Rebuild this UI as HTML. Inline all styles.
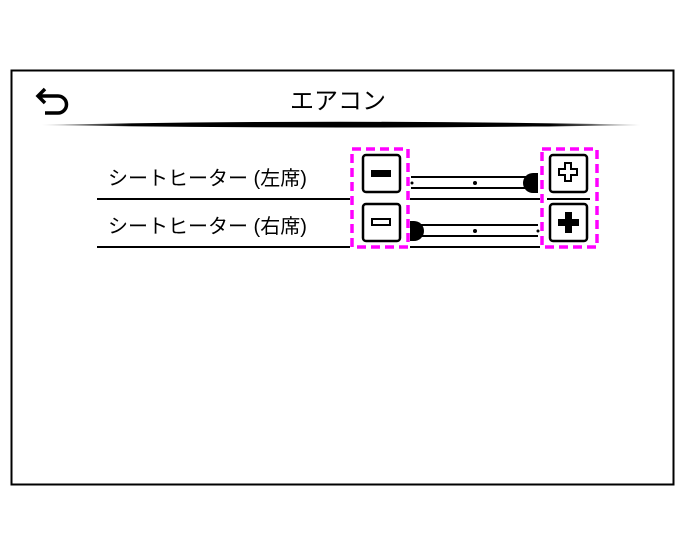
<!DOCTYPE html>
<html><head><meta charset="utf-8"><style>
html,body{margin:0;padding:0;background:#fff;width:685px;height:555px;overflow:hidden}
</style></head><body>
<svg width="685" height="555" viewBox="0 0 685 555" xmlns="http://www.w3.org/2000/svg">
<defs><linearGradient id="g" x1="0" x2="1" y1="0" y2="0">
<stop offset="0" stop-color="#000" stop-opacity="0.2"/><stop offset="0.15" stop-color="#000"/><stop offset="0.85" stop-color="#000"/><stop offset="1" stop-color="#000" stop-opacity="0.2"/></linearGradient></defs>
<rect x="11.5" y="70.5" width="662" height="414" fill="none" stroke="#000" stroke-width="2"/>
<path d="M58 96 H38 M45 89 L38 96 L45 103 M38 96 H58 A8.5 8.5 0 0 1 58 113 H45" fill="none" stroke="#000" stroke-width="3.5" stroke-linejoin="miter"/>
<text x="338" y="109" font-family="Liberation Sans, Noto Sans CJK JP, sans-serif" font-size="24" text-anchor="middle">エアコン</text>
<path d="M42 125 Q340 118.5 640 125 Q340 130 42 125 Z" fill="url(#g)"/>
<g font-family="Liberation Sans, Noto Sans CJK JP, sans-serif" font-size="20">
<text x="108" y="185">シートヒーター (左席)</text>
<text x="108" y="233">シートヒーター (右席)</text></g>
<g stroke="#000" stroke-width="2" fill="none">
<line x1="97" y1="199" x2="350" y2="199"/><line x1="97" y1="247" x2="350" y2="247"/>
<line x1="410" y1="199" x2="540" y2="199"/><line x1="410" y1="247" x2="540" y2="247"/>
<line x1="547" y1="199" x2="590" y2="199"/>
<line x1="411" y1="177" x2="530" y2="177"/><line x1="411" y1="188" x2="530" y2="188"/>
<line x1="420" y1="225" x2="538" y2="225"/><line x1="420" y1="236" x2="538" y2="236"/>
<rect x="363" y="155" width="37" height="37" rx="3" stroke-width="2.5"/>
<rect x="363" y="204" width="37" height="37" rx="3" stroke-width="2.5"/>
<rect x="550" y="155" width="37" height="37" rx="3" stroke-width="2.5"/>
<rect x="550" y="204" width="37" height="37" rx="3" stroke-width="2.5"/>
</g>
<rect x="371" y="170" width="20" height="7" fill="#000"/>
<rect x="372" y="219" width="18" height="6" fill="#fff" stroke="#000" stroke-width="2"/>
<path d="M565 163 h6 v6 h6 v6 h-6 v6 h-6 v-6 h-6 v-6 h6 z" fill="#fff" stroke="#000" stroke-width="2"/>
<path d="M565 212 h7 v7 h7 v7 h-7 v7 h-7 v-7 h-7 v-7 h7 z" fill="#000"/>
<path d="M538 173 V193 H533 A10 10 0 0 1 533 173 Z" fill="#000"/>
<path d="M410 221 V241 H414 A10 10 0 0 0 414 221 Z" fill="#000"/>
<g fill="#000"><circle cx="412" cy="183" r="1.5"/><circle cx="475" cy="183" r="2"/><circle cx="475" cy="231" r="2"/><circle cx="538" cy="231" r="1.5"/></g>
<g fill="none" stroke="#f0f" stroke-width="3.5" stroke-dasharray="9,5">
<rect x="352" y="149" width="56" height="98"/>
<rect x="542" y="149" width="55" height="98"/></g>
</svg>
</body></html>
